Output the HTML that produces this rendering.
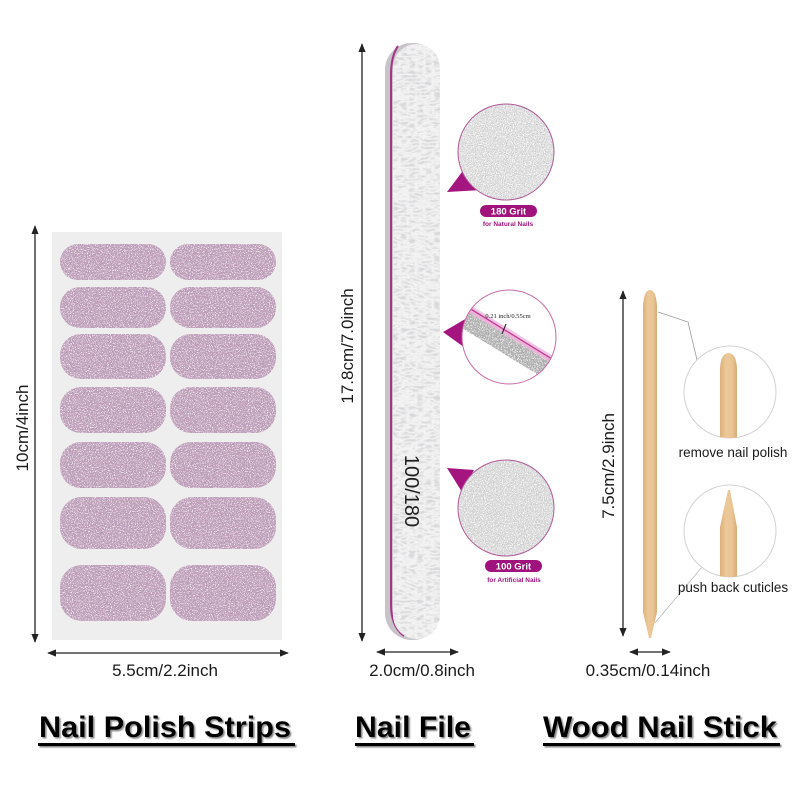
<!DOCTYPE html>
<html><head><meta charset="utf-8"><style>
html,body{margin:0;padding:0;background:#fff;}
svg{display:block;}
text{font-family:"Liberation Sans",Arial,sans-serif;}
</style></head><body>
<svg width="800" height="800" viewBox="0 0 800 800" xmlns="http://www.w3.org/2000/svg">
<defs>
  <filter id="glit" x="0" y="0" width="100%" height="100%">
    <feTurbulence type="fractalNoise" baseFrequency="0.95" numOctaves="2" seed="2" result="n"/>
    <feColorMatrix in="n" type="matrix" values="0 0 0 0 0.42  0 0 0 0 0.30  0 0 0 0 0.42  7 0 0 0 -3.6" result="d"/>
    <feColorMatrix in="n" type="matrix" values="0 0 0 0 1  0 0 0 0 0.93  0 0 0 0 1  0 8 0 0 -4.6" result="w"/>
    <feComposite in="d" in2="SourceGraphic" operator="in" result="d2"/>
    <feComposite in="w" in2="SourceGraphic" operator="in" result="w2"/>
    <feMerge><feMergeNode in="SourceGraphic"/><feMergeNode in="d2"/><feMergeNode in="w2"/></feMerge>
  </filter>
  <filter id="ftex" x="0" y="0" width="100%" height="100%">
    <feTurbulence type="turbulence" baseFrequency="0.12 0.28" numOctaves="2" seed="5" result="t"/>
    <feColorMatrix in="t" type="matrix" values="0 0 0 0 0.68  0 0 0 0 0.68  0 0 0 0 0.7  2.2 0 0 0 -0.3" result="g"/>
    <feComposite in="g" in2="SourceGraphic" operator="in" result="g2"/>
    <feMerge><feMergeNode in="SourceGraphic"/><feMergeNode in="g2"/></feMerge>
  </filter>
  <filter id="grain" x="0" y="0" width="100%" height="100%">
    <feTurbulence type="fractalNoise" baseFrequency="0.9" numOctaves="2" seed="7" result="n"/>
    <feColorMatrix in="n" type="matrix" values="0 0 0 0 0.55  0 0 0 0 0.55  0 0 0 0 0.55  6 0 0 0 -3.1" result="d"/>
    <feColorMatrix in="n" type="matrix" values="0 0 0 0 1  0 0 0 0 1  0 0 0 0 1  0 6 0 0 -3.2" result="w"/>
    <feComposite in="d" in2="SourceGraphic" operator="in" result="d2"/>
    <feComposite in="w" in2="SourceGraphic" operator="in" result="w2"/>
    <feMerge><feMergeNode in="SourceGraphic"/><feMergeNode in="d2"/><feMergeNode in="w2"/></feMerge>
  </filter>
  <filter id="shadow" x="-5%" y="-20%" width="110%" height="150%">
    <feDropShadow dx="1.5" dy="1.5" stdDeviation="0.8" flood-color="#666" flood-opacity="0.8"/>
  </filter>
  <linearGradient id="wood" x1="0" x2="1" y1="0" y2="0">
    <stop offset="0" stop-color="#dcb07a"/>
    <stop offset="0.35" stop-color="#ecc898"/>
    <stop offset="0.7" stop-color="#eac595"/>
    <stop offset="1" stop-color="#d8ab76"/>
  </linearGradient>
  <clipPath id="c2"><circle cx="509" cy="337" r="47"/></clipPath>
  <clipPath id="cA"><circle cx="730" cy="392" r="46"/></clipPath>
  <clipPath id="cB"><circle cx="730" cy="531" r="46"/></clipPath>
  <marker id="ah" viewBox="0 0 10 10" refX="9" refY="5" markerWidth="7" markerHeight="7" orient="auto-start-reverse">
    <path d="M0,1 L10,5 L0,9 Z" fill="#222"/>
  </marker>
</defs>

<!-- ============ LEFT: Nail polish strips ============ -->
<rect x="52" y="232" width="230" height="408" fill="#eeeeee"/>
<g filter="url(#glit)" fill="#c5a6bf">
  <rect x="60" y="244" width="106" height="36" rx="18"/>
  <rect x="170" y="244" width="106" height="36" rx="18"/>
  <rect x="60" y="287" width="106" height="41" rx="20"/>
  <rect x="170" y="287" width="106" height="41" rx="20"/>
  <rect x="60" y="334" width="106" height="45" rx="21"/>
  <rect x="170" y="334" width="106" height="45" rx="21"/>
  <rect x="60" y="387" width="106" height="46" rx="21"/>
  <rect x="170" y="387" width="106" height="46" rx="21"/>
  <rect x="60" y="442" width="106" height="46" rx="21"/>
  <rect x="170" y="442" width="106" height="46" rx="21"/>
  <rect x="60" y="497" width="106" height="52" rx="22"/>
  <rect x="170" y="497" width="106" height="52" rx="22"/>
  <rect x="60" y="565" width="106" height="56" rx="22"/>
  <rect x="170" y="565" width="106" height="56" rx="22"/>
</g>
<line x1="35" y1="226" x2="35" y2="642" stroke="#222" stroke-width="1.3" marker-start="url(#ah)" marker-end="url(#ah)"/>
<line x1="48" y1="653" x2="288" y2="653" stroke="#222" stroke-width="1.3" marker-start="url(#ah)" marker-end="url(#ah)"/>
<text transform="translate(28,428) rotate(-90)" text-anchor="middle" font-size="17" fill="#1a1a1a">10cm/4inch</text>
<text x="165" y="676" text-anchor="middle" font-size="17" fill="#1a1a1a">5.5cm/2.2inch</text>

<!-- ============ MIDDLE: Nail file ============ -->
<rect x="385" y="43" width="55" height="597" rx="27" fill="#c7c3c9"/>
<path d="M398,46 Q391,56 391,75 L391,605 Q391,626 404,636" fill="none" stroke="#a33584" stroke-width="2"/>
<rect x="393" y="44" width="47" height="595" rx="24" fill="#f3f3f3" filter="url(#ftex)"/>
<text transform="translate(405,491) rotate(90)" text-anchor="middle" font-size="20" fill="#222">100/180</text>
<line x1="362" y1="44" x2="362" y2="641" stroke="#222" stroke-width="1.3" marker-start="url(#ah)" marker-end="url(#ah)"/>
<line x1="377" y1="652" x2="458" y2="652" stroke="#222" stroke-width="1.3" marker-start="url(#ah)" marker-end="url(#ah)"/>
<text transform="translate(353,346) rotate(-90)" text-anchor="middle" font-size="17" fill="#1a1a1a">17.8cm/7.0inch</text>
<text x="422" y="676" text-anchor="middle" font-size="17" fill="#1a1a1a">2.0cm/0.8inch</text>

<!-- circle 1: 180 grit -->
<polygon points="447,192 465,168 482,190" fill="#a5157f"/>
<circle cx="506" cy="152" r="48" fill="#e0e0e0" filter="url(#grain)"/>
<circle cx="506" cy="152" r="48" fill="none" stroke="#b05a98" stroke-width="1"/>
<rect x="480" y="205" width="57" height="12" rx="6" fill="#a0137d"/>
<text x="508.5" y="214.5" text-anchor="middle" font-size="9.5" font-weight="bold" fill="#fff">180 Grit</text>
<text x="508" y="226" text-anchor="middle" font-size="6.5" font-weight="bold" fill="#a0137d">for Natural Nails</text>

<!-- circle 2: thickness -->
<polygon points="443,332 467,318 468,350" fill="#a5157f"/>
<circle cx="509" cy="337" r="47" fill="#fff"/>
<g clip-path="url(#c2)">
  <g transform="translate(509,337) rotate(31.6)">
    <rect x="-60" y="-7" width="120" height="3" fill="#f0c6e2"/>
    <rect x="-60" y="-4.5" width="120" height="1.5" fill="#c0409a"/>
    <rect x="-60" y="-3" width="120" height="3" fill="#ecb3d8"/>
    <rect x="-60" y="0" width="120" height="17" fill="#a9a9a9" filter="url(#grain)"/>
  </g>
</g>
<circle cx="509" cy="337" r="47" fill="none" stroke="#c66aa5" stroke-width="1"/>
<text x="508" y="318" text-anchor="middle" font-size="6.5" fill="#222" style="font-family:'Liberation Serif',serif">0.21 inch/0.55cm</text>
<line x1="506" y1="324" x2="502" y2="334" stroke="#111" stroke-width="1"/>

<!-- circle 3: 100 grit -->
<polygon points="447,468 474,470 462,492" fill="#a5157f"/>
<circle cx="506" cy="508" r="48" fill="#dcdcdc" filter="url(#grain)"/>
<circle cx="506" cy="508" r="48" fill="none" stroke="#b05a98" stroke-width="1"/>
<rect x="485" y="560" width="57" height="12" rx="6" fill="#a0137d"/>
<text x="513.5" y="569.5" text-anchor="middle" font-size="9.5" font-weight="bold" fill="#fff">100 Grit</text>
<text x="514" y="582" text-anchor="middle" font-size="6.5" font-weight="bold" fill="#a0137d">for Artificial Nails</text>

<!-- ============ RIGHT: Wood stick ============ -->
<path d="M643,306 Q644,290 650,290 Q656,290 657,306 L657,612 L651,638 L649,638 L643,612 Z" fill="url(#wood)"/>
<line x1="623" y1="291" x2="623" y2="636" stroke="#222" stroke-width="1.3" marker-start="url(#ah)" marker-end="url(#ah)"/>
<line x1="630" y1="652" x2="670" y2="652" stroke="#222" stroke-width="1.3" marker-start="url(#ah)" marker-end="url(#ah)"/>
<text transform="translate(614,466) rotate(-90)" text-anchor="middle" font-size="17" fill="#1a1a1a">7.5cm/2.9inch</text>
<text x="648" y="676" text-anchor="middle" font-size="17" fill="#1a1a1a">0.35cm/0.14inch</text>

<!-- connectors -->
<polyline points="658,312 688,322 697,360" fill="none" stroke="#999" stroke-width="0.8"/>
<line x1="702" y1="567" x2="655" y2="623" stroke="#bbb" stroke-width="0.8"/>

<!-- circle A -->
<circle cx="730" cy="392" r="46" fill="#fff" stroke="#d2d2d2" stroke-width="1"/>
<g clip-path="url(#cA)">
  <path d="M720,368 Q721,353 728.5,353 Q736,353 737,368 L737,440 L720,440 Z" fill="url(#wood)"/>
</g>
<text x="733" y="457" text-anchor="middle" font-size="13.5" fill="#1a1a1a">remove nail polish</text>

<!-- circle B -->
<circle cx="730" cy="531" r="46" fill="#fff" stroke="#d2d2d2" stroke-width="1"/>
<g clip-path="url(#cB)">
  <path d="M728,490 L730,490 L737,527 L737,580 L720,580 L720,527 Z" fill="url(#wood)"/>
</g>
<text x="733" y="592" text-anchor="middle" font-size="13.5" fill="#1a1a1a">push back cuticles</text>

<!-- ============ Titles ============ -->
<g filter="url(#shadow)" fill="#000">
  <text x="39" y="737" font-size="30" font-weight="bold" textLength="252" lengthAdjust="spacingAndGlyphs" style="font-family:'Liberation Sans Narrow','Liberation Sans',sans-serif">Nail Polish Strips</text>
  <rect x="38" y="743" width="257" height="3"/>
  <text x="355" y="737" font-size="30" font-weight="bold" textLength="116" lengthAdjust="spacingAndGlyphs" style="font-family:'Liberation Sans Narrow','Liberation Sans',sans-serif">Nail File</text>
  <rect x="355" y="743" width="119" height="3"/>
  <text x="543" y="737" font-size="30" font-weight="bold" textLength="234" lengthAdjust="spacingAndGlyphs" style="font-family:'Liberation Sans Narrow','Liberation Sans',sans-serif">Wood Nail Stick</text>
  <rect x="543" y="743" width="237" height="3"/>
</g>
</svg>
</body></html>
